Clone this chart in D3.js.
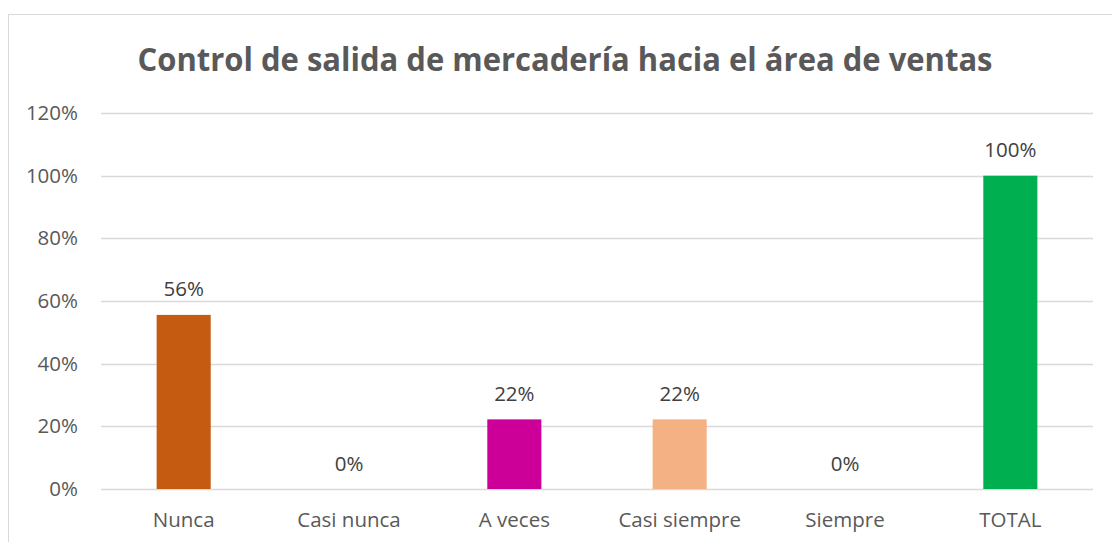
<!DOCTYPE html>
<html><head><meta charset="utf-8">
<script src="https://cdn.jsdelivr.net/npm/d3@7"></script>
<style>body{margin:0;background:#fff}svg{display:block}</style>
</head><body>
<svg id="c" width="1112" height="542"></svg>
<script>
const title = "Control de salida de mercadería hacia el área de ventas";
const categories = ["Nunca", "Casi nunca", "A veces", "Casi siempre", "Siempre", "TOTAL"];
const values = [55.56, 0, 22.22, 22.22, 0, 100];
const labels = ["56%", "0%", "22%", "22%", "0%", "100%"];
const colors = ["#C55A11", "#C55A11", "#CC0099", "#F4B183", "#F4B183", "#00B050"];
const yTicks = [0, 20, 40, 60, 80, 100, 120];

const svg = d3.select("#c");
const font = "'Open Sans', Lato, sans-serif";
const grey = "#595959";

// chart border
svg.append("rect").attr("x", 8.5).attr("y", 14.5).attr("width", 1120).attr("height", 560)
  .attr("fill", "none").attr("stroke", "#d9d9d9").attr("stroke-width", 1);

const x = d3.scaleBand().domain(categories).range([101, 1093]).padding(0);
const y = d3.scaleLinear().domain([0, 120]).range([489, 113]);
const barW = x.bandwidth() * 0.327;

// gridlines
svg.append("g").selectAll("line").data(yTicks).join("line")
  .attr("x1", 101).attr("x2", 1093)
  .attr("y1", d => Math.round(y(d)) + 0.5).attr("y2", d => Math.round(y(d)) + 0.5)
  .attr("stroke", "#d9d9d9").attr("stroke-width", 1.5);

// y axis labels
const yAxis = d3.axisLeft(y).tickValues(yTicks).tickFormat(d => d + "%").tickSize(0).tickPadding(0);
const ga = svg.append("g").attr("transform", "translate(78,0)").call(yAxis);
ga.select(".domain").remove();
ga.selectAll("text").attr("font-family", font).attr("font-size", 20.5).attr("fill", grey);

// x axis labels
const xAxis = d3.axisBottom(x).tickSize(0).tickPadding(0);
const gx = svg.append("g").attr("transform", "translate(0,512)").call(xAxis);
gx.select(".domain").remove();
gx.selectAll("text").attr("font-family", font).attr("font-size", 20.5).attr("fill", grey);

// bars
svg.append("g").selectAll("rect").data(categories).join("rect")
  .attr("x", (d) => x(d) + x.bandwidth() / 2 - barW / 2)
  .attr("width", barW)
  .attr("y", (d, i) => y(values[i]))
  .attr("height", (d, i) => y(0) - y(values[i]))
  .attr("fill", (d, i) => colors[i]);

// data labels
svg.append("g").selectAll("text").data(categories).join("text")
  .attr("x", d => x(d) + x.bandwidth() / 2)
  .attr("y", (d, i) => y(values[i]) - 18.5)
  .attr("text-anchor", "middle")
  .attr("font-family", font).attr("font-size", 20.5).attr("fill", "#404040")
  .text((d, i) => labels[i]);

// title
svg.append("text").attr("x", 565).attr("y", 71).attr("text-anchor", "middle")
  .attr("font-family", font).attr("font-weight", "bold").attr("font-size", 32)
  .attr("fill", grey).attr("textLength", 855).attr("lengthAdjust", "spacingAndGlyphs")
  .text(title);
</script>
</body></html>
